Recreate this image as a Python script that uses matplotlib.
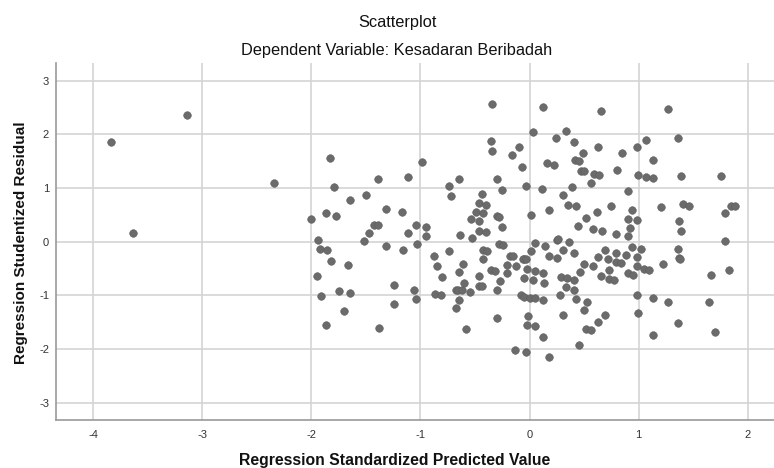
import matplotlib
matplotlib.use("Agg")
import matplotlib.pyplot as plt

# Regression Standardized Predicted Value (x) vs Regression Studentized Residual (y)
predicted = [
    -3.84, -3.63, -3.14, -2.34,
    -1.83, -0.99, -1.39, -1.11, -1.79, -0.74, -0.65, -0.72, -1.65, -1.50, -1.32, -1.17,
    -2.00, -1.87, -1.77, -1.43, -1.39, -1.04, -0.95, -1.11, -1.47, -1.52, -1.94, -0.95,
    -1.92, -1.86, -1.32, -1.16, -1.03, -0.88, -0.74, -0.64,
    -1.82, -1.66, -1.95, -1.75, -1.65, -1.91, -1.70, -1.87, -1.24, -1.06, -1.24, -1.04,
    -1.38, -0.85, -0.80, -0.87, -0.81, -0.67, -0.67, -0.65, -0.65,
    -0.34, 0.12, 0.03, 0.24, -0.35, -0.34, -0.10, -0.16, -0.07, 0.16, 0.22, -0.30,
    -0.25, -0.03, 0.11, -0.44, -0.46, -0.40, -0.49, -0.43, -0.54, -0.46, -0.30, -0.28,
    -0.25, 0.01, 0.18, -0.46, -0.40, -0.53, -0.28, -0.24, 0.05, 0.14, 0.25,
    -0.43, -0.39, 0.01, -0.18, -0.15, -0.05, 0.18, -0.43,
    0.25, -0.06, -0.03, -0.61, -0.21, -0.12, -0.02, 0.05, 0.12, -0.35, -0.32, -0.46,
    -0.21, -0.27, -0.05, 0.03, 0.13, -0.60, -0.46, -0.44, -0.66, -0.62, -0.55, -0.30,
    -0.08, -0.05, 0.00, 0.05, 0.12, -0.30, -0.58, -0.01, -0.02, 0.05, 0.12, -0.13,
    -0.03, 0.18,
    0.65, 1.27, 0.33, 0.41, 0.63, 0.49, 0.85, 0.98, 1.07, 1.13, 0.42, 0.45, 0.47, 0.50,
    0.59, 0.64, 0.80, 0.99, 1.07, 1.13, 0.56, 0.39, 0.31, 0.90, 0.35, 0.43, 0.62, 0.75,
    0.94, 1.20, 0.52, 0.90, 0.98, 0.44, 0.58, 0.66, 0.92, 0.79, 0.90, 0.26, 0.36, 0.31,
    0.41, 0.69, 0.79, 0.94, 1.02, 0.88, 0.63, 0.72, 0.98,
    0.79, 0.84, 0.50, 0.58, 0.98, 0.73, 1.22, 1.05, 1.09, 0.46, 0.90, 0.95, 0.65, 0.73,
    0.77, 0.29, 0.34, 0.41, 0.33, 0.41, 0.28, 0.43, 0.53, 0.50, 0.69, 0.63, 0.52, 0.56,
    0.45, 0.31, 0.98, 0.99, 1.13, 1.13, 1.27,
    1.36, 1.39, 1.75, 1.41, 1.46, 1.85, 1.88, 1.79, 1.37, 1.39, 1.79, 1.36, 1.37, 1.38,
    1.66, 1.83, 1.64, 1.36, 1.70,
]
residual = [
    1.85, 0.16, 2.37, 1.10,
    1.56, 1.49, 1.17, 1.21, 1.02, 1.03, 1.17, 0.86, 0.77, 0.87, 0.61, 0.55,
    0.42, 0.53, 0.48, 0.32, 0.31, 0.32, 0.27, 0.17, 0.17, 0.02, 0.04, 0.10,
    -0.14, -0.16, -0.07, -0.15, -0.04, -0.27, -0.17, 0.12,
    -0.36, -0.43, -0.64, -0.91, -0.95, -1.01, -1.29, -1.55, -0.81, -0.89, -1.15, -1.07,
    -1.60, -0.46, -0.66, -0.97, -1.00, -0.89, -1.23, -1.08, -0.56,
    2.56, 2.51, 2.04, 1.94, 1.87, 1.70, 1.76, 1.61, 1.40, 1.46, 1.43, 1.17,
    0.97, 1.04, 0.98, 0.89, 0.72, 0.69, 0.56, 0.54, 0.42, 0.39, 0.48, 0.47,
    0.28, 0.50, 0.59, 0.20, 0.18, 0.07, -0.04, -0.06, -0.03, -0.07, 0.04,
    -0.15, -0.17, -0.18, -0.26, -0.27, -0.32, -0.26, -0.32,
    -0.30, -0.32, -0.33, -0.41, -0.43, -0.46, -0.51, -0.54, -0.58, -0.53, -0.55, -0.64,
    -0.59, -0.74, -0.68, -0.71, -0.76, -0.76, -0.83, -0.83, -0.89, -0.90, -0.94, -0.90,
    -1.00, -1.02, -1.04, -1.05, -1.09, -1.42, -1.62, -1.38, -1.55, -1.57, -1.78, -2.01,
    -2.06, -2.15,
    2.43, 2.48, 2.07, 1.86, 1.76, 1.65, 1.66, 1.77, 1.90, 1.52, 1.52, 1.51, 1.32, 1.31,
    1.26, 1.25, 1.34, 1.25, 1.21, 1.18, 1.10, 1.02, 0.87, 0.95, 0.69, 0.66, 0.56, 0.67,
    0.59, 0.64, 0.44, 0.43, 0.40, 0.30, 0.24, 0.20, 0.25, 0.15, 0.10, 0.05, 0.00, -0.15,
    -0.20, -0.15, -0.20, -0.10, -0.14, -0.24, -0.28, -0.32, -0.29,
    -0.37, -0.40, -0.41, -0.45, -0.46, -0.52, -0.41, -0.50, -0.52, -0.56, -0.59, -0.61,
    -0.64, -0.69, -0.72, -0.66, -0.68, -0.72, -0.85, -0.89, -1.00, -1.07, -1.12, -1.28,
    -1.36, -1.50, -1.62, -1.65, -1.93, -1.36, -0.99, -1.33, -1.05, -1.74, -1.12,
    1.94, 1.23, 1.23, 0.71, 0.67, 0.67, 0.66, 0.53, 0.38, 0.20, 0.01, -0.13, -0.30, -0.32,
    -0.62, -0.52, -1.12, -1.51, -1.68,
]

x_ticks = [-4, -3, -2, -1, 0, 1, 2]
y_ticks = [-3, -2, -1, 0, 1, 2, 3]

plt.rcParams['font.family'] = ['Liberation Sans', 'DejaVu Sans']

fig = plt.figure(figsize=(7.74, 4.68), dpi=100)
ax = fig.add_axes([56 / 774, 48 / 468, 1 - 56 / 774, (420 - 63) / 468])

ax.scatter(predicted, residual, s=30, color='#6b6b6b', edgecolors='#5e5e5e',
           linewidths=0.4, zorder=3)

ax.set_xlim(-4.34, 2.24)
ax.set_ylim(-3.32, 3.33)
ax.set_xticks(x_ticks)
ax.set_yticks(y_ticks)
ax.set_xticklabels([str(t) for t in x_ticks])
ax.set_yticklabels([str(t) for t in y_ticks])
ax.tick_params(axis='x', length=0, labelsize=8, labelcolor='#333333', pad=7)
ax.tick_params(axis='y', length=0, labelsize=8, labelcolor='#333333', pad=5)
ax.grid(True, color='#d4d4d4', linewidth=1.2, zorder=0)
ax.set_axisbelow(True)

for side in ['top', 'right']:
    ax.spines[side].set_visible(False)
for side in ['left', 'bottom']:
    ax.spines[side].set_color('#9a9a9a')
    ax.spines[side].set_linewidth(1.2)

fig.text(397 / 774, 1 - 22 / 468, 'Scatterplot', ha='center', va='center',
         fontsize=11.8, color='#111111')
fig.text(397 / 774, 1 - 50 / 468, 'Dependent Variable: Kesadaran Beribadah',
         ha='center', va='center', fontsize=11.8, color='#111111')
fig.text(395 / 774, 1 - 460 / 468, 'Regression Standardized Predicted Value',
         ha='center', va='center', fontsize=11.3, fontweight='bold', color='#111111')
fig.text(21 / 774, 1 - 243 / 468, 'Regression Studentized Residual',
         ha='center', va='center', rotation=90, fontsize=11, fontweight='bold',
         color='#111111')

fig.savefig('out.png', dpi=100)
